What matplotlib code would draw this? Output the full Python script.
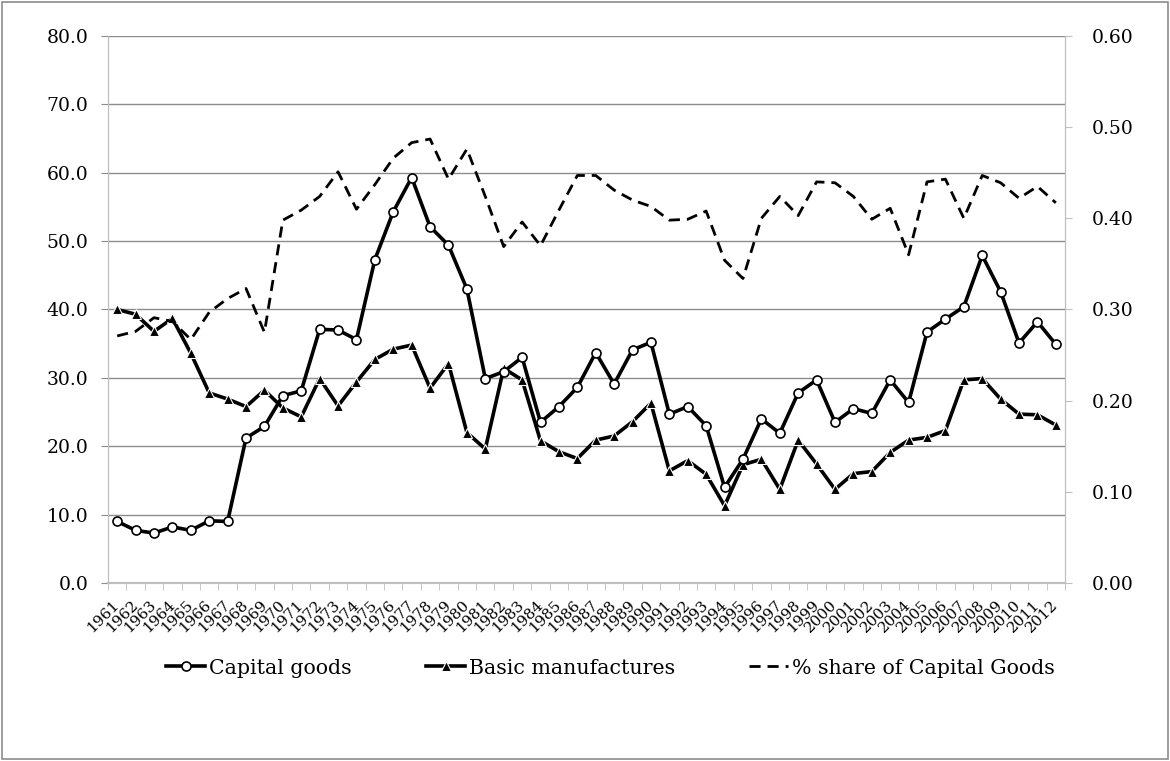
import numpy as np
import matplotlib
matplotlib.use("Agg")
import matplotlib.pyplot as plt
from matplotlib.ticker import FormatStrFormatter, MultipleLocator

plt.rcParams['font.family'] = ['DejaVu Serif']

years = list(range(1961, 2013))

capital_goods = [9.0, 7.7, 7.3, 8.2, 7.7, 9.1, 9.0, 21.2, 22.9, 27.4,
                 28.1, 37.1, 37.0, 35.6, 47.3, 54.3, 59.3, 52.1, 49.4, 43.0,
                 29.9, 30.9, 33.0, 23.5, 25.8, 28.6, 33.7, 29.1, 34.1, 35.2,
                 24.7, 25.8, 23.0, 14.0, 18.1, 24.0, 21.9, 27.8, 29.7, 23.5,
                 25.5, 24.8, 29.7, 26.4, 36.7, 38.6, 40.4, 47.9, 42.6, 35.1,
                 38.2, 34.9]

basic_manufactures = [40.0, 39.3, 36.8, 38.7, 33.6, 27.8, 26.9, 25.8, 28.2, 25.6,
                      24.3, 29.9, 25.9, 29.4, 32.7, 34.2, 34.8, 28.5, 32.1, 22.0,
                      19.6, 31.4, 29.7, 20.8, 19.2, 18.2, 20.9, 21.5, 23.6, 26.3,
                      16.4, 17.9, 15.9, 11.3, 17.3, 18.1, 13.7, 20.9, 17.4, 13.7,
                      16.0, 16.3, 19.1, 20.9, 21.3, 22.3, 29.7, 29.9, 26.9, 24.7,
                      24.6, 23.1]

share_capital = [0.271, 0.276, 0.291, 0.287, 0.267, 0.297, 0.312, 0.323, 0.275, 0.398,
                 0.409, 0.424, 0.451, 0.410, 0.437, 0.466, 0.483, 0.487, 0.443, 0.476,
                 0.424, 0.369, 0.396, 0.370, 0.409, 0.447, 0.447, 0.431, 0.420, 0.413,
                 0.398, 0.399, 0.408, 0.354, 0.334, 0.400, 0.424, 0.403, 0.440, 0.439,
                 0.424, 0.399, 0.411, 0.360, 0.440, 0.443, 0.400, 0.447, 0.439, 0.422,
                 0.435, 0.417]

fig = plt.figure(figsize=(11.7, 7.61), dpi=100)
ax = fig.add_axes([0.0923, 0.2339, 0.818, 0.7188])
ax2 = ax.twinx()

l1, = ax.plot(years, capital_goods, color="black", lw=2.6, marker="o", ms=6.5,
              mfc="white", mec="black", mew=1.2, zorder=4, label="Capital goods")
l2, = ax.plot(years, basic_manufactures, color="black", lw=2.6, marker="^", ms=7.5,
              mfc="black", mec="white", mew=0.8, zorder=3, label="Basic manufactures")
l3, = ax2.plot(years, share_capital, color="black", lw=2.0, linestyle=(0, (4, 2.5)),
               label="% share of Capital Goods")

# 左轴
ax.set_ylim(0, 80)
ax.yaxis.set_major_locator(MultipleLocator(10))
ax.yaxis.set_major_formatter(FormatStrFormatter('%.1f'))
ax.grid(axis="y", color="#8c8c8c", lw=1)
ax.set_axisbelow(True)
# 右轴
ax2.set_ylim(0, 0.6)
ax2.yaxis.set_major_locator(MultipleLocator(0.1))
ax2.yaxis.set_major_formatter(FormatStrFormatter('%.2f'))

ax.set_xlim(1960.5, 2012.5)
ax.set_xticks(years)
ax.set_xticklabels([str(y) for y in years], rotation=45, ha="right", va="center",
                   rotation_mode="anchor", fontsize=11)
ax.set_xticks(np.arange(1960.5, 2013.0, 1.0), minor=True)
ax.tick_params(axis="x", which="major", length=0, pad=14)
ax.tick_params(axis="x", which="minor", length=5, color="#bfbfbf")
ax.tick_params(axis="y", length=5, color="#8c8c8c", labelsize=13.5, pad=9)
ax2.tick_params(axis="y", length=5, color="#bfbfbf", labelsize=13.5, pad=14)

for a in (ax, ax2):
    a.spines["top"].set_visible(False)
    a.spines["left"].set_color("#bfbfbf")
    a.spines["right"].set_color("#bfbfbf")
    a.spines["bottom"].set_color("#bfbfbf")
    a.spines["bottom"].set_linewidth(1.5)

fig.legend(handles=[l1, l2, l3], loc="center", bbox_to_anchor=(0.522, 0.122),
           ncol=3, frameon=False, fontsize=14.8, handlelength=1.9,
           handletextpad=0.2, columnspacing=3.6)

# 外边框
fig.patches.append(plt.Rectangle((0.002, 0.002), 0.996, 0.996, transform=fig.transFigure,
                                 fill=False, edgecolor="#8c8c8c", lw=1.2))

plt.savefig("out.png", dpi=100)
